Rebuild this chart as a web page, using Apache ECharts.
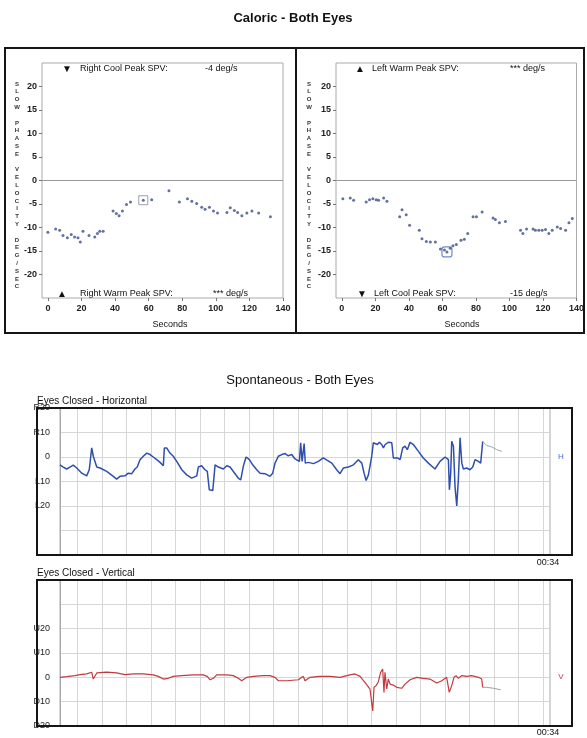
<!DOCTYPE html>
<html>
<head>
<meta charset="utf-8">
<script src="https://cdn.jsdelivr.net/npm/echarts@6/dist/echarts.min.js"></script>
<style>
  html, body { margin: 0; padding: 0; background: #fff; }
  #chart { width: 587px; height: 738px; }
</style>
</head>
<body>
<div id="chart"></div>
<script>
// caloric panels: seconds vs slow phase velocity (deg/s)
const secTicks = [0, 20, 40, 60, 80, 100, 120, 140]
const spvTicks = [-20, -15, -10, -5, 0, 5, 10, 15, 20]

const rightEarSPV = [
  [0, -11.0], [4.6, -10.3], [7, -10.6], [9, -11.7], [11.6, -12.2], [13.9, -11.5], [15.9, -12.0],
  [17.9, -12.2], [19.3, -13.1], [20.9, -10.8], [24.5, -11.7], [27.9, -12.0], [29.5, -11.3],
  [30.9, -10.8], [32.9, -10.8], [38.8, -6.5], [40.8, -7.0], [42.4, -7.5], [44.4, -6.5],
  [46.8, -5.1], [49.2, -4.6], [56.8, -4.2], [61.8, -4.1], [72.1, -2.2], [78.3, -4.6],
  [83.1, -3.9], [85.7, -4.4], [88.6, -4.9], [91.6, -5.7], [93.6, -6.1], [96.2, -5.7],
  [98.6, -6.5], [101, -6.9], [106.6, -6.8], [108.6, -5.8], [111, -6.4], [113, -6.8],
  [115.5, -7.5], [118.5, -6.9], [121.5, -6.5], [125.5, -6.9], [132.5, -7.7]
]
const rightEarPeak = [[56.8, -4.2]]

const leftEarSPV = [
  [0.6, -3.9], [5, -3.7], [7, -4.2], [14.5, -4.6], [16.5, -4.1], [18.5, -3.9], [20.5, -4.1],
  [21.9, -4.2], [24.9, -3.7], [26.9, -4.4], [34.5, -7.7], [35.9, -6.2], [38.4, -7.3],
  [40.4, -9.5], [46.2, -10.6], [47.8, -12.4], [50.4, -13.0], [52.8, -13.1], [55.8, -13.1],
  [58.8, -14.6], [61.2, -14.8], [62.7, -15.2], [64.7, -14.4], [66.3, -13.9], [68.3, -13.6],
  [71.1, -12.7], [73.1, -12.5], [75.1, -11.3], [78.3, -7.7], [80.3, -7.7], [83.7, -6.7],
  [90.2, -8.0], [91.6, -8.3], [94, -9.0], [97.6, -8.7], [106.6, -10.6], [108, -11.3],
  [110.2, -10.3], [114.1, -10.3], [115.5, -10.6], [117.5, -10.6], [119.5, -10.6],
  [121.5, -10.4], [123.5, -11.3], [125.5, -10.6], [128.5, -9.9], [130.5, -10.2],
  [133.5, -10.6], [135.5, -9.0], [137.5, -8.1]
]
const leftEarPeak = [[62.7, -15.2]]

// spontaneous traces: seconds vs degrees
const hTrace = [
  [0, -3.2], [0.23, -4.1], [0.46, -4.9], [0.69, -4.1], [0.92, -3.3], [1.16, -4.5], [1.51, -6.6],
  [1.85, -7.7], [2.03, -5.2], [2.13, -4.5], [2.2, 3.7], [2.31, 0.3], [2.43, 1.0], [2.55, -4.1],
  [2.78, -4.5], [3.24, -5.9], [3.7, -7.9], [3.93, -9.0], [4.16, -7.9], [4.51, -7.7], [4.74, -6.6],
  [4.98, -6.8], [5.2, -4.9], [5.36, -4.1], [5.55, -1.1], [5.78, 0.3], [6.02, 1.6], [6.25, 1.0],
  [6.47, 0], [6.71, -1.1], [6.94, -2.2], [7.17, -3.6], [7.24, 3.7], [7.4, 3.7], [7.63, 1.6],
  [7.86, 0.3], [8.1, -1.8], [8.45, -5.2], [8.79, -7.3], [9.14, -8.6], [9.49, -7.7], [9.6, -4.1],
  [9.83, -3.6], [10.06, -5.2], [10.22, -5.9], [10.36, -13.4], [10.6, -13.7], [10.69, -7.9],
  [10.76, -3.2], [10.99, -4.1], [11.33, -4.9], [11.57, -3.6], [11.8, -4.1], [12.03, -5.9],
  [12.37, -8.6], [12.54, -9.3], [12.72, -3.8], [12.91, 0], [13.14, -1.1], [13.37, -3.2],
  [13.65, -5.2], [13.88, -6.6], [14.23, -6.8], [14.57, -7.9], [14.76, -6.6], [14.92, -2.5],
  [15.15, 0.3], [15.39, 1.0], [15.62, 1.4], [15.84, 0.5], [16.08, 1.0], [16.31, -0.8],
  [16.61, -1.8], [16.7, 5.8], [16.8, -1.8], [16.94, 5.5], [17.02, -2.5], [17.23, -2.2],
  [17.58, -2.7], [17.93, -1.8], [18.27, -0.4], [18.55, -1.4], [18.86, -2.5], [19.2, -5.2],
  [19.43, -6.8], [19.66, -4.5], [20.01, -4.1], [20.36, -3.2], [20.7, -1.1], [20.94, -2.5],
  [21.1, -6.6], [21.24, -9.6], [21.4, -7.3], [21.63, 0.3], [21.74, 5.8], [22.02, 5.1],
  [22.16, 6.0], [22.32, 5.1], [22.44, 3.7], [22.56, 5.1], [22.78, 6.0], [23.02, 5.8],
  [23.13, -0.4], [23.41, -0.4], [23.6, -1.1], [23.78, 3.7], [23.94, 4.4], [24.1, 3.0],
  [24.29, 6.0], [24.52, 5.1], [24.87, 2.3], [25.21, -0.4], [25.56, -2.5], [26.02, -4.9],
  [26.37, -1.8], [26.72, 0], [26.95, -1.1], [27.02, -13.4], [27.11, -6.6], [27.18, 6.4],
  [27.3, 4.4], [27.41, -12.1], [27.53, -20.0], [27.64, -9.3], [27.76, 7.8], [27.88, -2.5],
  [27.99, -4.9], [28.22, -4.5], [28.45, -5.2], [28.64, -4.1], [28.8, -1.1], [29.03, -1.8],
  [29.19, -2.5], [29.33, 6.4]
]
const hTail = [[29.33, 6.4], [29.61, 4.7], [29.96, 4.1], [30.3, 3.0], [30.65, 2.3]]

const vTrace = [
  [0, 0], [0.46, 0.3], [1.04, 0.7], [1.39, 1.1], [1.85, 1.4], [2.2, 2.1], [2.31, -0.7], [2.55, 1.8],
  [3.24, 2.1], [3.93, 1.8], [4.51, 1.1], [5.09, 1.4], [5.78, 1.4], [6.47, 1.0], [6.82, 0.4],
  [7.17, -0.7], [7.51, -0.4], [7.86, 0.4], [8.44, 0.7], [9.25, 1.0], [9.94, 1.0], [10.22, 0.4],
  [10.41, -1.0], [10.64, -0.4], [10.87, 1.0], [11.57, 1.0], [12.03, 0.7], [12.37, -0.4],
  [12.61, -1.4], [12.96, 0], [13.41, 0.4], [14.11, 0.7], [14.57, 0.7], [14.92, 0], [15.15, -1.4],
  [15.73, -1.4], [16.54, -1.0], [16.65, -0.7], [16.88, 0.4], [17.0, -1.4], [17.35, 0],
  [18.04, 0.4], [18.74, 0.4], [19.43, 0], [20.12, 1.0], [20.47, 1.4], [20.82, 0.4],
  [21.16, -2.1], [21.51, -4.8], [21.7, -13.8], [21.79, -4.1], [21.93, -3.4], [22.09, -1.8],
  [22.25, 2.1], [22.39, 3.4], [22.48, -6.2], [22.55, 2.1], [22.67, -4.8], [22.78, -0.7],
  [22.9, -2.8], [23.13, -3.2], [23.36, -4.1], [23.71, -4.5], [23.94, -2.8], [24.29, -1.0],
  [24.75, 0], [25.21, -0.4], [25.67, -0.7], [26.14, -2.3], [26.49, -1.4], [26.83, 0],
  [27.01, -6.2], [27.18, -3.4], [27.34, 0], [27.48, 0.7], [27.64, -0.4], [27.87, 0.7],
  [28.22, 0.4], [28.57, 0.7], [29.03, 0], [29.26, -0.7], [29.33, -4.1]
]
const vTail = [[29.33, -4.1], [29.61, -4.1], [30.07, -4.5], [30.58, -5.1]]

const hLabels = { '20': 'R20', '10': 'R10', '0': '0', '-10': 'L10', '-20': 'L20' }
const vLabels = { '20': 'U20', '10': 'U10', '0': '0', '-10': 'D10', '-20': 'D20' }

const yName = 'SLOW PHASE VELOCITY DEG/SEC'
const FONT = '"Liberation Sans", Arial, sans-serif'

// chart-paper vertical rules (styling only)
const paperRules = []
for (let k = 0; k < 20; k++) paperRules.push(1.21 + k * 1.7)

const chart = echarts.init(document.getElementById('chart'), null, { renderer: 'canvas' })

function calX(i) {
  return {
    gridIndex: i,
    type: 'value',
    min: -3.5,
    max: 140,
    axisLine: { show: false, onZero: false },
    splitLine: { show: false },
    axisTick: { show: true, length: 3, customValues: secTicks, lineStyle: { color: '#777' } },
    axisLabel: { customValues: secTicks, margin: 6, fontSize: 9, fontWeight: 'bold', color: '#222', fontFamily: FONT }
  }
}
function calY(i) {
  return {
    gridIndex: i,
    type: 'value',
    min: -25,
    max: 25,
    axisLine: { show: false, onZero: false },
    splitLine: { show: false },
    axisTick: { show: true, length: 3, customValues: spvTicks, lineStyle: { color: '#777' } },
    axisLabel: { customValues: spvTicks, margin: 5, fontSize: 9, fontWeight: 'bold', color: '#222', fontFamily: FONT }
  }
}
function traceX(i, h) {
  return {
    gridIndex: i,
    type: 'value',
    position: 'bottom',
    min: 0,
    max: 34,
    axisLine: { show: false, onZero: false },
    axisLabel: { show: false },
    splitLine: { show: false },
    axisTick: { show: true, inside: true, length: h, customValues: paperRules, lineStyle: { color: '#d6d6d6' } }
  }
}
function traceY(i, min, max, labels) {
  return {
    gridIndex: i,
    type: 'value',
    min: min,
    max: max,
    interval: 10,
    axisLine: { show: true, onZero: false, lineStyle: { color: '#aaa' } },
    axisTick: { show: false },
    splitLine: { lineStyle: { color: '#d6d6d6' } },
    axisLabel: {
      margin: 10,
      fontSize: 9,
      color: '#222',
      fontFamily: FONT,
      formatter: function (v) { return labels[String(v)] || '' }
    }
  }
}

const zeroLine = {
  silent: true,
  symbol: 'none',
  label: { show: false },
  lineStyle: { color: '#999', type: 'solid', width: 1 },
  data: [{ yAxis: 0 }]
}

function txt(x, y, text, font, fill, align) {
  return {
    type: 'text', x: x, y: y, z: 100,
    style: {
      text: text, font: font, fill: fill || '#111',
      textAlign: align || 'left', textVerticalAlign: 'middle',
      align: align || 'left', verticalAlign: 'middle'
    }
  }
}
function frame(x, y, w, h) {
  return {
    type: 'rect', z: 90, silent: true,
    shape: { x: x, y: y, width: w, height: h },
    style: { fill: 'none', stroke: '#151515', lineWidth: 2 }
  }
}

const small = '9px ' + FONT
const tri = '10px ' + FONT
const letters = yName.split('').join('\n')

chart.setOption({
  backgroundColor: '#fff',
  animation: false,
  grid: [
    { left: 42, top: 63, width: 241, height: 235, show: true, borderColor: '#aaa', borderWidth: 1 },
    { left: 336, top: 63, width: 241, height: 235, show: true, borderColor: '#aaa', borderWidth: 1 },
    { left: 60, top: 408, width: 490, height: 147, show: true, borderColor: '#aaa', borderWidth: 1 },
    { left: 60, top: 580, width: 490, height: 146, show: true, borderColor: '#aaa', borderWidth: 1 }
  ],
  xAxis: [calX(0), calX(1), traceX(2, 147), traceX(3, 146)],
  yAxis: [calY(0), calY(1), traceY(2, -40, 20, hLabels), traceY(3, -20, 40, vLabels)],
  series: [
    {
      type: 'scatter', xAxisIndex: 0, yAxisIndex: 0, data: rightEarSPV,
      symbolSize: 3, itemStyle: { color: '#3c4d86' }, markLine: zeroLine
    },
    {
      type: 'scatter', xAxisIndex: 0, yAxisIndex: 0, data: rightEarPeak,
      symbol: 'rect', symbolSize: 9,
      itemStyle: { color: 'rgba(0,0,0,0)', borderColor: '#888', borderWidth: 1 }
    },
    {
      type: 'scatter', xAxisIndex: 1, yAxisIndex: 1, data: leftEarSPV,
      symbolSize: 3, itemStyle: { color: '#3c4d86' }, markLine: zeroLine
    },
    {
      type: 'scatter', xAxisIndex: 1, yAxisIndex: 1, data: leftEarPeak,
      symbol: 'roundRect', symbolSize: 10,
      itemStyle: { color: 'rgba(0,0,0,0)', borderColor: '#4a6fb8', borderWidth: 1.2 }
    },
    {
      type: 'line', xAxisIndex: 2, yAxisIndex: 2, data: hTrace, showSymbol: false,
      lineStyle: { color: '#2f4fae', width: 1.5 }
    },
    {
      type: 'line', xAxisIndex: 2, yAxisIndex: 2, data: hTail, showSymbol: false,
      lineStyle: { color: '#9aa3b8', width: 1 }
    },
    {
      type: 'line', xAxisIndex: 3, yAxisIndex: 3, data: vTrace, showSymbol: false,
      lineStyle: { color: '#c23a40', width: 1.2 }
    },
    {
      type: 'line', xAxisIndex: 3, yAxisIndex: 3, data: vTail, showSymbol: false,
      lineStyle: { color: '#a89a9a', width: 1 }
    }
  ],
  graphic: [
    txt(293, 18, 'Caloric - Both Eyes', 'bold 13px ' + FONT, '#111', 'center'),
    txt(300, 380, 'Spontaneous - Both Eyes', '13px ' + FONT, '#111', 'center'),

    frame(5, 48, 291, 285),
    frame(296, 48, 288, 285),

    // left caloric panel
    txt(67, 69, '▼', tri, '#111', 'center'),
    txt(80, 69, 'Right Cool Peak SPV:', small),
    txt(205, 69, '-4 deg/s', small),
    txt(62, 294, '▲', tri, '#111', 'center'),
    txt(80, 294, 'Right Warm Peak SPV:', small),
    txt(213, 294, '*** deg/s', small),
    txt(170, 325, 'Seconds', small, '#111', 'center'),
    {
      type: 'text', x: 17, y: 80, z: 100,
      style: { text: letters, font: 'bold 6px ' + FONT, lineHeight: 7.8, fill: '#333', textAlign: 'center', align: 'center' }
    },

    // right caloric panel
    txt(360, 69, '▲', tri, '#111', 'center'),
    txt(372, 69, 'Left Warm Peak SPV:', small),
    txt(510, 69, '*** deg/s', small),
    txt(362, 294, '▼', tri, '#111', 'center'),
    txt(374, 294, 'Left Cool Peak SPV:', small),
    txt(510, 294, '-15 deg/s', small),
    txt(462, 325, 'Seconds', small, '#111', 'center'),
    {
      type: 'text', x: 309, y: 80, z: 100,
      style: { text: letters, font: 'bold 6px ' + FONT, lineHeight: 7.8, fill: '#333', textAlign: 'center', align: 'center' }
    },

    // horizontal trace
    frame(37, 408, 535, 147),
    txt(37, 401, 'Eyes Closed - Horizontal', '10px ' + FONT, '#111'),
    txt(561, 457, 'H', '8px ' + FONT, '#4a6fd0', 'center'),
    txt(548, 563, '00:34', '9px ' + FONT, '#111', 'center'),

    // vertical trace
    frame(37, 580, 535, 146),
    txt(37, 573, 'Eyes Closed - Vertical', '10px ' + FONT, '#111'),
    txt(561, 677, 'V', '8px ' + FONT, '#c0404a', 'center'),
    txt(548, 733, '00:34', '9px ' + FONT, '#111', 'center')
  ]
})
</script>
</body>
</html>
